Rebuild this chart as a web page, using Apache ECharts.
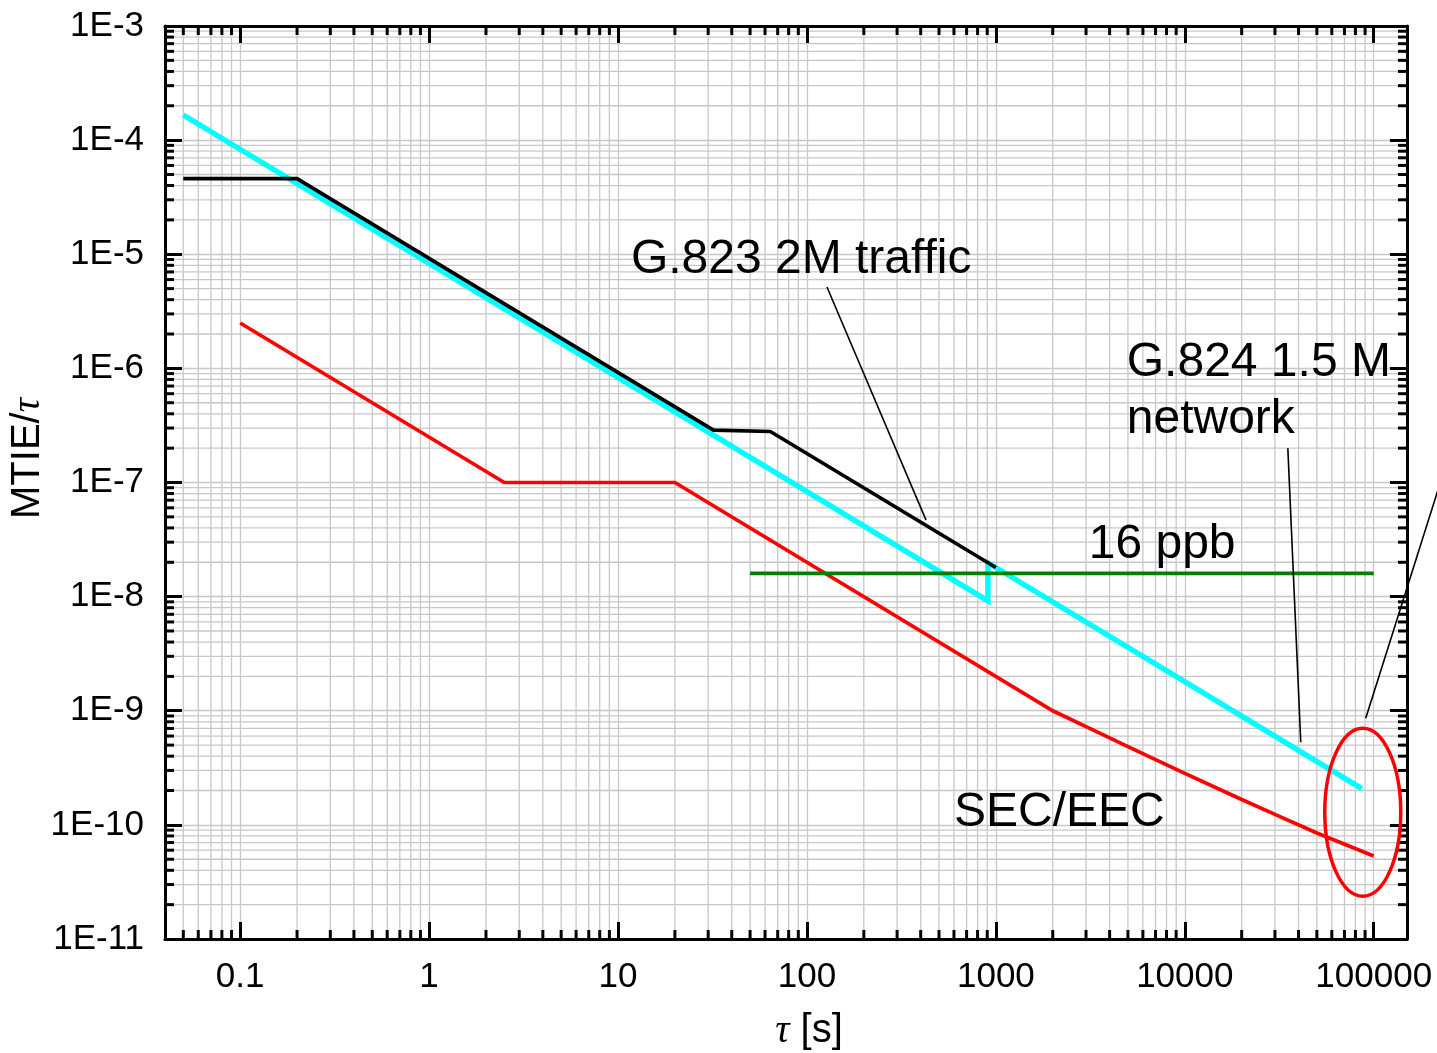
<!DOCTYPE html>
<html>
<head>
<meta charset="utf-8">
<script src="https://cdn.jsdelivr.net/npm/echarts@6/dist/echarts.min.js"></script>
<style>
  html, body { margin: 0; padding: 0; background: #fff; }
  #chart { width: 1437px; height: 1053px; }
</style>
</head>
<body>
<div id="chart"></div>
<script>
// Mask values as [tau (s), MTIE/tau]
const g824Network = [[0.05, 1.66e-4], [907, 9.2e-9], [907, 1.98e-8], [86400, 2.08e-10]];
const g823Traffic = [[0.05, 4.6e-5], [0.2, 4.6e-5], [32, 2.875e-7], [64, 2.8e-7], [1000, 1.8e-8]];
const secEec = [[0.1, 2.5e-6], [2.5, 1e-7], [20, 1e-7], [2000, 1e-9], [3000, 7.26e-10], [5000, 4.85e-10],
                [10000, 2.83e-10], [20000, 1.67e-10], [30000, 1.235e-10], [50000, 8.5e-11], [100000, 5.33e-11]];
const ppb16 = [[50, 1.6e-8], [100000, 1.6e-8]];

// Axis ticks and labels
const xTicks = [0.1, 1, 10, 100, 1000, 10000, 100000];
const xTickLabels = ['0.1', '1', '10', '100', '1000', '10000', '100000'];
const yTicks = [1e-11, 1e-10, 1e-9, 1e-8, 1e-7, 1e-6, 1e-5, 1e-4, 1e-3];
const yTickLabels = ['1E-11', '1E-10', '1E-9', '1E-8', '1E-7', '1E-6', '1E-5', '1E-4', '1E-3'];
const minorSteps = [2, 3, 4, 5, 6, 7, 8, 9];
const xDecades = [0.01, 0.1, 1, 10, 100, 1000, 10000, 100000];
const yDecades = [1e-11, 1e-10, 1e-9, 1e-8, 1e-7, 1e-6, 1e-5, 1e-4];

const X_MIN = 0.04, X_MAX = 150000;
const Y_MIN = 1e-11, Y_MAX = 1e-3;

const FONT = '"Liberation Sans", Arial, sans-serif';
const SERIF = '"Liberation Serif", "Times New Roman", serif';
const GRID_GREY = '#c8c8c8';

const xMinor = [];
xDecades.forEach(d => minorSteps.forEach(s => {
  const v = +(d * s).toPrecision(6);
  if (v > X_MIN && v < X_MAX) xMinor.push(v);
}));
const yMinor = [];
yDecades.forEach(d => minorSteps.forEach(s => {
  const v = +(d * s).toPrecision(6);
  if (v > Y_MIN && v < Y_MAX) yMinor.push(v);
}));

function lookupLabel(ticks, labels, v) {
  const i = ticks.findIndex(t => Math.abs(Math.log10(t) - Math.log10(v)) < 1e-6);
  return i < 0 ? '' : labels[i];
}

const MINOR_LEN = 9;

// Minor grid lines (vertical / horizontal)
function minorGridX(params, api) {
  const cs = params.coordSys;
  const px = api.coord([api.value(0), Y_MIN])[0];
  return { type: 'line', shape: { x1: px, y1: cs.y, x2: px, y2: cs.y + cs.height },
           style: { stroke: GRID_GREY, lineWidth: 1.3 } };
}
function minorGridY(params, api) {
  const cs = params.coordSys;
  const py = api.coord([X_MIN, api.value(1)])[1];
  return { type: 'line', shape: { x1: cs.x, y1: py, x2: cs.x + cs.width, y2: py },
           style: { stroke: GRID_GREY, lineWidth: 1.3 } };
}
// Minor ticks, pointing inward on all four sides
function minorTickX(params, api) {
  const cs = params.coordSys;
  const px = api.coord([api.value(0), Y_MIN])[0];
  const top = cs.y, bottom = cs.y + cs.height;
  return { type: 'group', children: [
    { type: 'line', shape: { x1: px, y1: bottom, x2: px, y2: bottom - MINOR_LEN }, style: { stroke: '#000', lineWidth: 3 } },
    { type: 'line', shape: { x1: px, y1: top, x2: px, y2: top + MINOR_LEN }, style: { stroke: '#000', lineWidth: 3 } }
  ] };
}
function minorTickY(params, api) {
  const cs = params.coordSys;
  const py = api.coord([X_MIN, api.value(1)])[1];
  const left = cs.x, right = cs.x + cs.width;
  return { type: 'group', children: [
    { type: 'line', shape: { x1: left, y1: py, x2: left + MINOR_LEN, y2: py }, style: { stroke: '#000', lineWidth: 3 } },
    { type: 'line', shape: { x1: right, y1: py, x2: right - MINOR_LEN, y2: py }, style: { stroke: '#000', lineWidth: 3 } }
  ] };
}

const frameAxis = {
  axisLine: { show: true, lineStyle: { color: '#000', width: 3 } },
  axisTick: { show: true, inside: true, length: 17, lineStyle: { color: '#000', width: 3 } }
};

const lineSeries = (name, data, color, width, z) => ({
  name, type: 'line', data, z,
  showSymbol: false, symbol: 'none', silent: true,
  lineStyle: { color, width, cap: 'butt', join: 'miter' }
});

const chart = echarts.init(document.getElementById('chart'), null, { renderer: 'canvas' });

const option = {
  animation: false,
  backgroundColor: '#fff',
  grid: { left: 165, right: 30, top: 26, bottom: 114, containLabel: false, outerBoundsMode: 'none' },
  xAxis: [
    {
      type: 'log', logBase: 10, min: X_MIN, max: X_MAX, position: 'bottom',
      ...frameAxis,
      splitLine: { show: true, lineStyle: { color: GRID_GREY, width: 1.3 } },
      axisLabel: {
        show: true, margin: 21, fontSize: 35, fontFamily: FONT, color: '#000',
        formatter: v => lookupLabel(xTicks, xTickLabels, v)
      },
      name: '{t|τ} [s]', nameLocation: 'middle', nameGap: 72,
      nameTextStyle: {
        fontSize: 40, fontFamily: FONT, color: '#000', padding: [0, 0, 0, 46],
        rich: { t: { fontSize: 40, fontFamily: SERIF, fontStyle: 'italic', color: '#000' } }
      }
    },
    {
      type: 'log', logBase: 10, min: X_MIN, max: X_MAX, position: 'top',
      ...frameAxis,
      splitLine: { show: false }, axisLabel: { show: false }
    }
  ],
  yAxis: [
    {
      type: 'log', logBase: 10, min: Y_MIN, max: Y_MAX, position: 'left',
      ...frameAxis,
      splitLine: { show: true, lineStyle: { color: GRID_GREY, width: 1.3 } },
      axisLabel: {
        show: true, margin: 21, fontSize: 35, fontFamily: FONT, color: '#000',
        formatter: v => lookupLabel(yTicks, yTickLabels, v)
      },
      name: 'MTIE/{t|τ}', nameLocation: 'middle', nameGap: 117, nameMoveOverlap: false,
      nameTextStyle: {
        fontSize: 40, fontFamily: FONT, color: '#000', padding: [0, 0, 0, 48],
        rich: { t: { fontSize: 40, fontFamily: SERIF, fontStyle: 'italic', color: '#000' } }
      }
    },
    {
      type: 'log', logBase: 10, min: Y_MIN, max: Y_MAX, position: 'right',
      ...frameAxis,
      splitLine: { show: false }, axisLabel: { show: false }
    }
  ],
  series: [
    { type: 'custom', name: 'xMinorGrid', z: 0, silent: true, renderItem: minorGridX,
      data: xMinor.map(v => [v, Y_MIN]), clip: false },
    { type: 'custom', name: 'yMinorGrid', z: 0, silent: true, renderItem: minorGridY,
      data: yMinor.map(v => [X_MIN, v]), clip: false },
    lineSeries('G.824 1.5 M network', g824Network, '#00ffff', 5.5, 3),
    lineSeries('G.823 2M traffic', g823Traffic, '#000000', 3.7, 4),
    lineSeries('SEC/EEC', secEec, '#ff0000', 3.7, 4),
    lineSeries('16 ppb', ppb16, '#008000', 3.7, 5),
    { type: 'custom', name: 'xMinorTicks', z: 8, silent: true, renderItem: minorTickX,
      data: xMinor.map(v => [v, Y_MIN]), clip: false },
    { type: 'custom', name: 'yMinorTicks', z: 8, silent: true, renderItem: minorTickY,
      data: yMinor.map(v => [X_MIN, v]), clip: false }
  ]
};

chart.setOption(option);

// Annotations anchored in (tau, MTIE/tau) coordinates
const toPx = pt => chart.convertToPixel({ xAxisIndex: 0, yAxisIndex: 0 }, pt);
const ANNO_FONT = 'normal 48px ' + FONT;

function label(text, at, extra) {
  const p = toPx(at);
  return {
    type: 'text', z: 20, silent: true, x: p[0], y: p[1],
    style: Object.assign({ text, font: ANNO_FONT, fill: '#000', align: 'left', verticalAlign: 'middle' }, extra || {})
  };
}
function leader(from, to) {
  const a = toPx(from), b = toPx(to);
  return {
    type: 'line', z: 20, silent: true,
    shape: { x1: a[0], y1: a[1], x2: b[0], y2: b[1] },
    style: { stroke: '#000', lineWidth: 1.6 }
  };
}

const ellipseCentre = toPx([87500, 1.29e-10]);

chart.setOption({
  graphic: [
    label('G.823 2M traffic', [11.7, 9.0e-6]),
    leader([127.6, 5.16e-6], [427, 4.68e-8]),
    label('G.824 1.5 M\nnetwork', [4930, 6.3e-7], { lineHeight: 57 }),
    leader([35100, 2.0e-7], [41100, 5.3e-10]),
    label('16 ppb', [3100, 2.85e-8]),
    label('SEC/EEC', [600, 1.28e-10]),
    {
      type: 'ellipse', z: 20, silent: true,
      shape: { cx: ellipseCentre[0], cy: ellipseCentre[1], rx: 38, ry: 84 },
      style: { fill: 'none', stroke: '#ff0000', lineWidth: 3.5 }
    },
    leader([90700, 8.6e-10], [240000, 1.39e-7])
  ]
});
</script>
</body>
</html>
